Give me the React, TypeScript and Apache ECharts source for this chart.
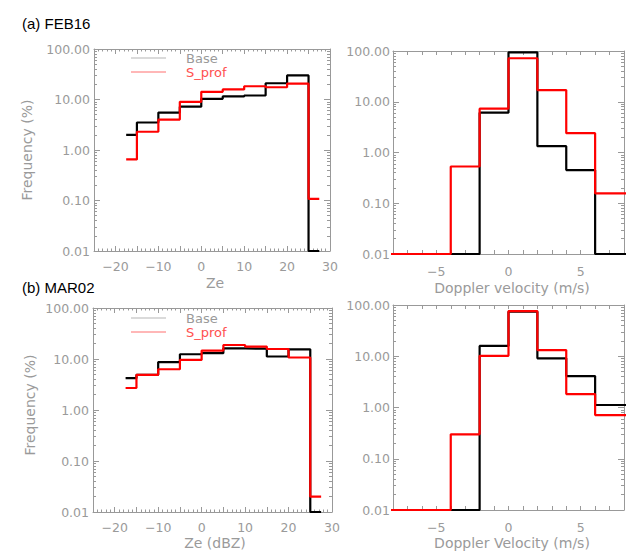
import { useEffect, useRef } from "react";
import * as echarts from "echarts";

// Ze histogram bin positions (dBZ) and frequencies (%)
const zeBins = [-17.5, -12.5, -7.5, -2.5, 2.5, 7.5, 12.5, 17.5, 22.5, 27.5];
const feb16ZeBase = [2.0, 3.5, 5.5, 7.2, 10.3, 11.5, 12.0, 21, 30, 0.01];
const feb16ZeSprof = [0.65, 2.3, 4.0, 9.0, 14.2, 15.8, 18.3, 17.5, 20.7, 0.108];
const mar02ZeBase = [4.2, 4.9, 8.7, 12.4, 13, 16.2, 16, 11.2, 15.5, 0.01];
const mar02ZeSprof = [2.7, 4.9, 6.3, 9.6, 14.6, 18.8, 17.5, 15.7, 10.7, 0.02];

// Doppler velocity bin positions (m/s) and frequencies (%)
const vBins = [-9, -7, -5, -3, -1, 1, 3, 5, 7, 9];
const feb16VBase = [0.01, 0.01, 0.01, 0.01, 6.1, 94, 1.33, 0.45, 0.01, 0.01];
const feb16VSprof = [0.01, 0.01, 0.01, 0.53, 7.3, 72, 17, 2.4, 0.156, 0.156];
const mar02VBase = [0.01, 0.01, 0.01, 0.01, 15.9, 74, 9.1, 4.1, 1.12, 1.12];
const mar02VSprof = [0.01, 0.01, 0.01, 0.3, 10.2, 76, 13.2, 1.83, 0.71, 0.71];

const zeTickLabels = [-20, -10, 0, 10, 20, 30];
const vTickLabels = [-5, 0, 5];
const seriesNames = ["Base", "S_prof"];

const GRAY = "#9a9a9a";
const AXIS = "#999";
const TICK_FONT = "DejaVu Sans";

export default function App() {
  const ref = useRef<HTMLDivElement>(null);
  useEffect(() => {
    if (!ref.current) return;
    const chart = echarts.init(ref.current, null, { renderer: "svg" });

    const panels = [
      { kind: "ze", grid: { left: 94, top: 49, width: 236, height: 202 }, base: feb16ZeBase, sprof: feb16ZeSprof },
      { kind: "v", grid: { left: 393, top: 51, width: 240, height: 203 }, base: feb16VBase, sprof: feb16VSprof },
      { kind: "ze", grid: { left: 93, top: 308, width: 239, height: 204 }, base: mar02ZeBase, sprof: mar02ZeSprof },
      { kind: "v", grid: { left: 393, top: 305, width: 240, height: 205 }, base: mar02VBase, sprof: mar02VSprof },
    ];

    const minorLog: number[] = [];
    for (let d = -2; d < 2; d++) for (let k = 2; k <= 9; k++) minorLog.push(Math.log10(k) + d);

    const fmtNum = (v: number) => String(v).replace("-", "\u2212");

    const xAxis: any[] = [];
    const yAxis: any[] = [];
    const series: any[] = [];

    panels.forEach((p, i) => {
      const isZe = p.kind === "ze";
      const labels = isZe ? zeTickLabels : vTickLabels;
      const bins = isZe ? zeBins : vBins;
      const xBase = {
        type: "value",
        gridIndex: i,
        min: isZe ? -25 : -8,
        max: isZe ? 30 : 8,
        interval: isZe ? 5 : 1,
        splitLine: { show: false },
        axisLine: { onZero: false, lineStyle: { color: AXIS, width: 1 } },
        axisTick: { inside: true, length: isZe ? 5 : 4, lineStyle: { color: AXIS } },
        minorTick: { show: isZe, splitNumber: 5, length: 2.5, lineStyle: { color: AXIS } },
      };
      xAxis.push({
        ...xBase,
        position: "bottom",
        axisLabel: {
          color: GRAY,
          fontSize: 12.5,
          fontFamily: TICK_FONT,
          margin: isZe ? 9 : 11,
          showMinLabel: false,
          formatter: (v: number) => (labels.indexOf(v) >= 0 ? fmtNum(v) : ""),
        },
      });
      xAxis.push({ ...xBase, position: "top", axisLabel: { show: false } });

      const yLog = {
        type: "log",
        logBase: 10,
        gridIndex: i,
        min: 0.01,
        max: 100,
        splitLine: { show: false },
        axisLine: { onZero: false, lineStyle: { color: AXIS, width: 1 } },
        axisTick: { inside: true, length: 6, lineStyle: { color: AXIS } },
      };
      yAxis.push({
        ...yLog,
        position: "left",
        axisLabel: {
          color: GRAY,
          fontSize: 12.5,
          fontFamily: TICK_FONT,
          margin: isZe ? 4 : 3,
          formatter: (v: number) => v.toFixed(2),
        },
      });
      yAxis.push({ ...yLog, position: "right", axisLabel: { show: false } });
      const yMinor = {
        type: "value",
        gridIndex: i,
        min: -2,
        max: 2,
        splitLine: { show: false },
        axisLine: { show: false, onZero: false },
        axisLabel: { show: false },
        axisTick: { inside: true, length: 3, customValues: minorLog, lineStyle: { color: AXIS } },
      };
      yAxis.push({ ...yMinor, position: "left" });
      yAxis.push({ ...yMinor, position: "right" });

      const mk = (name: string, vals: number[], color: string) => ({
        type: "line",
        name,
        xAxisIndex: i * 2,
        yAxisIndex: i * 4,
        step: "middle",
        symbol: "none",
        clip: true,
        color,
        lineStyle: { color, width: 2.2 },
        data: bins.map((b, j) => [b, vals[j]]),
      });
      series.push(mk(seriesNames[0], p.base, "#000000"));
      series.push(mk(seriesNames[1], p.sprof, "#ff0000"));
    });

    const legendFor = (top: number) => ({
      orient: "vertical",
      left: 131,
      top,
      padding: 0,
      itemWidth: 35,
      itemHeight: 1,
      itemGap: 0,
      selectedMode: false,
      textStyle: { fontSize: 13, fontFamily: TICK_FONT, lineHeight: 14, padding: [0, 0, 0, 15] },
      data: [
        { name: seriesNames[0], icon: "rect", itemStyle: { color: "#b5b5b5" }, textStyle: { color: GRAY } },
        { name: seriesNames[1], icon: "rect", itemStyle: { color: "#ff7070" }, textStyle: { color: "#ff5050" } },
      ],
    });

    const txt = (text: string, x: number, y: number, opts: any = {}) => ({
      type: "text",
      x,
      y,
      rotation: opts.rotation || 0,
      style: {
        text,
        fill: opts.fill || GRAY,
        font: opts.font || `14px "${TICK_FONT}"`,
        textAlign: opts.align || "center",
        textVerticalAlign: "middle",
      },
    });

    chart.setOption({
      animation: false,
      backgroundColor: "#ffffff",
      grid: panels.map((p) => p.grid),
      xAxis,
      yAxis,
      series,
      legend: [legendFor(51), legendFor(311)],
      graphic: [
        txt("(a) FEB16", 22, 23, { fill: "#000", align: "left", font: '15px "Liberation Sans"' }),
        txt("(b) MAR02", 22, 287, { fill: "#000", align: "left", font: '15px "Liberation Sans"' }),
        txt("Frequency (%)", 27, 150, { rotation: Math.PI / 2 }),
        txt("Frequency (%)", 30, 405, { rotation: Math.PI / 2 }),
        txt("Ze", 215, 283),
        txt("Doppler velocity (m/s)", 512, 288),
        txt("Ze (dBZ)", 215, 543),
        txt("Doppler Velocity (m/s)", 512, 543),
      ],
    });
    return () => chart.dispose();
  }, []);
  return (
    <div
      ref={ref}
      style={{ position: "fixed", left: 0, top: 0, width: 627, height: 553, background: "#fff" }}
    />
  );
}
